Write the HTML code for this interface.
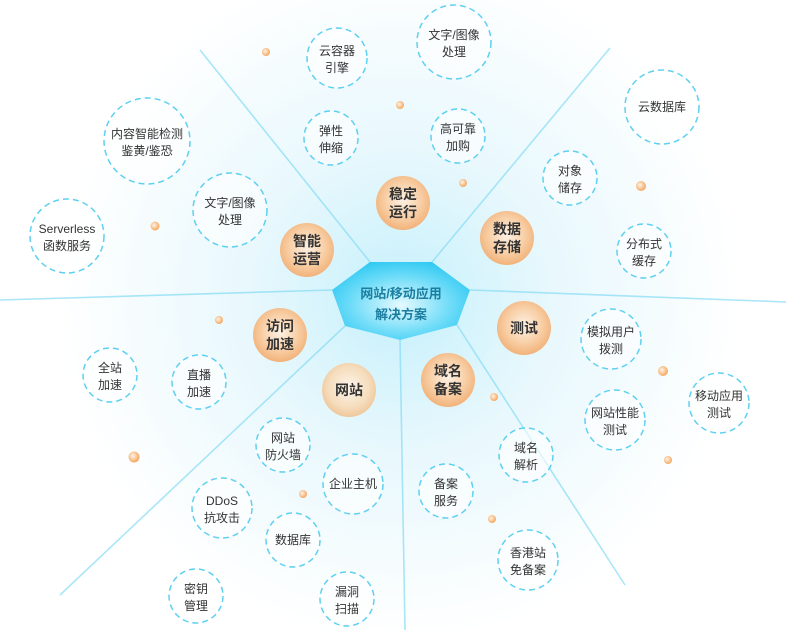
<!DOCTYPE html>
<html><head><meta charset="utf-8"><style>
html,body{margin:0;padding:0;background:#fff;}
svg{display:block;}
text{font-family:"Liberation Sans","Noto Sans CJK SC",sans-serif;}
</style></head><body>
<svg width="786" height="630" viewBox="0 0 786 630" xmlns="http://www.w3.org/2000/svg">
<defs>
<radialGradient id="bg" cx="400" cy="300" r="340" gradientUnits="userSpaceOnUse">
<stop offset="0" stop-color="#c6f0fb"/><stop offset="0.45" stop-color="#e8f8fd"/><stop offset="1" stop-color="#ffffff"/>
</radialGradient>
<radialGradient id="hex" cx="0.5" cy="0.55" r="0.6">
<stop offset="0" stop-color="#e6faff"/><stop offset="0.6" stop-color="#6fdcf8"/><stop offset="1" stop-color="#2cc8f2"/>
</radialGradient>
<radialGradient id="org" cx="0.5" cy="0.45" r="0.55">
<stop offset="0" stop-color="#fdf1e4"/><stop offset="0.6" stop-color="#f8cfa6"/><stop offset="1" stop-color="#f2b27a"/>
</radialGradient>
<radialGradient id="org2" cx="0.5" cy="0.45" r="0.55">
<stop offset="0" stop-color="#fdf5ea"/><stop offset="0.7" stop-color="#f5dcbc"/><stop offset="1" stop-color="#efc79a"/>
</radialGradient>
<radialGradient id="dot" cx="0.4" cy="0.4" r="0.6">
<stop offset="0" stop-color="#fff3e6"/><stop offset="1" stop-color="#f4a860"/>
</radialGradient>
</defs>
<rect width="786" height="630" fill="#fff"/>
<ellipse cx="400" cy="300" rx="390" ry="350" fill="url(#bg)"/>
<g stroke="#86dcf5" stroke-width="1.6" opacity="0.7">
<line x1="370" y1="262" x2="200" y2="50"/>
<line x1="432" y1="262" x2="610" y2="48"/>
<line x1="470" y1="290" x2="786" y2="302"/>
<line x1="457" y1="325" x2="625" y2="585"/>
<line x1="400" y1="340" x2="405" y2="630"/>
<line x1="345" y1="326" x2="60" y2="595"/>
<line x1="332" y1="290" x2="0" y2="300"/>
</g>
<polygon points="370,262 432,262 470,290 457,325 400,340 345,326 332,290" fill="url(#hex)"/>
<text x="401" y="298" text-anchor="middle" font-size="13" font-weight="bold" fill="#1b7ea0">网站/移动应用</text>
<text x="401" y="319" text-anchor="middle" font-size="13" font-weight="bold" fill="#1b7ea0">解决方案</text>
<g fill="url(#dot)">
<circle cx="266" cy="52" r="4"/><circle cx="400" cy="105" r="4"/><circle cx="463" cy="183" r="4"/><circle cx="641" cy="186" r="5"/><circle cx="155" cy="226" r="4.5"/><circle cx="219" cy="320" r="4"/><circle cx="663" cy="371" r="5"/><circle cx="494" cy="397" r="4"/><circle cx="134" cy="457" r="5.5"/><circle cx="668" cy="460" r="4"/><circle cx="303" cy="494" r="4"/><circle cx="492" cy="519" r="4"/>
</g>
<g font-size="14" font-weight="bold" fill="#333" text-anchor="middle">
<circle cx="403" cy="203" r="27" fill="url(#org)"/><text x="403" y="199">稳定</text><text x="403" y="217">运行</text>
<circle cx="507" cy="238" r="27" fill="url(#org)"/><text x="507" y="234">数据</text><text x="507" y="252">存储</text>
<circle cx="307" cy="250" r="27" fill="url(#org)"/><text x="307" y="246">智能</text><text x="307" y="264">运营</text>
<circle cx="524" cy="328" r="27" fill="url(#org)"/><text x="524" y="333">测试</text>
<circle cx="280" cy="335" r="27" fill="url(#org)"/><text x="280" y="331">访问</text><text x="280" y="349">加速</text>
<circle cx="349" cy="390" r="27" fill="url(#org2)"/><text x="349" y="395">网站</text>
<circle cx="448" cy="380" r="27" fill="url(#org)"/><text x="448" y="376">域名</text><text x="448" y="394">备案</text>
</g>
<g fill="#fff" fill-opacity="0.6" stroke="#5fd0f0" stroke-width="1.5" stroke-dasharray="6,4">
<circle cx="337" cy="58" r="30"/><circle cx="454" cy="42" r="37"/><circle cx="147" cy="141" r="43"/><circle cx="331" cy="138" r="27"/><circle cx="458" cy="136" r="27"/><circle cx="662" cy="107" r="37"/><circle cx="570" cy="178" r="27"/><circle cx="67" cy="236" r="37"/><circle cx="230" cy="210" r="37"/><circle cx="644" cy="251" r="27"/><circle cx="611" cy="339" r="30"/><circle cx="719" cy="403" r="30"/><circle cx="110" cy="375" r="27"/><circle cx="199" cy="382" r="27"/><circle cx="615" cy="420" r="30"/><circle cx="283" cy="445" r="27"/><circle cx="526" cy="455" r="27"/><circle cx="353" cy="484" r="30"/><circle cx="446" cy="491" r="27"/><circle cx="222" cy="508" r="30"/><circle cx="293" cy="540" r="27"/><circle cx="528" cy="560" r="30"/><circle cx="196" cy="596" r="27"/><circle cx="347" cy="599" r="27"/>
</g>
<g font-size="12" fill="#333" text-anchor="middle">
<text x="337" y="55">云容器</text><text x="337" y="72">引擎</text>
<text x="454" y="39">文字/图像</text><text x="454" y="56">处理</text>
<text x="147" y="138">内容智能检测</text><text x="147" y="155">鉴黄/鉴恐</text>
<text x="331" y="135">弹性</text><text x="331" y="152">伸缩</text>
<text x="458" y="133">高可靠</text><text x="458" y="150">加购</text>
<text x="662" y="111">云数据库</text>
<text x="570" y="175">对象</text><text x="570" y="192">储存</text>
<text x="67" y="233">Serverless</text><text x="67" y="250">函数服务</text>
<text x="230" y="207">文字/图像</text><text x="230" y="224">处理</text>
<text x="644" y="248">分布式</text><text x="644" y="265">缓存</text>
<text x="611" y="336">模拟用户</text><text x="611" y="353">拨测</text>
<text x="719" y="400">移动应用</text><text x="719" y="417">测试</text>
<text x="110" y="372">全站</text><text x="110" y="389">加速</text>
<text x="199" y="379">直播</text><text x="199" y="396">加速</text>
<text x="615" y="417">网站性能</text><text x="615" y="434">测试</text>
<text x="283" y="442">网站</text><text x="283" y="459">防火墙</text>
<text x="526" y="452">域名</text><text x="526" y="469">解析</text>
<text x="353" y="488">企业主机</text>
<text x="446" y="488">备案</text><text x="446" y="505">服务</text>
<text x="222" y="505">DDoS</text><text x="222" y="522">抗攻击</text>
<text x="293" y="544">数据库</text>
<text x="528" y="557">香港站</text><text x="528" y="574">免备案</text>
<text x="196" y="593">密钥</text><text x="196" y="610">管理</text>
<text x="347" y="596">漏洞</text><text x="347" y="613">扫描</text>
</g>
</svg>
</body></html>
